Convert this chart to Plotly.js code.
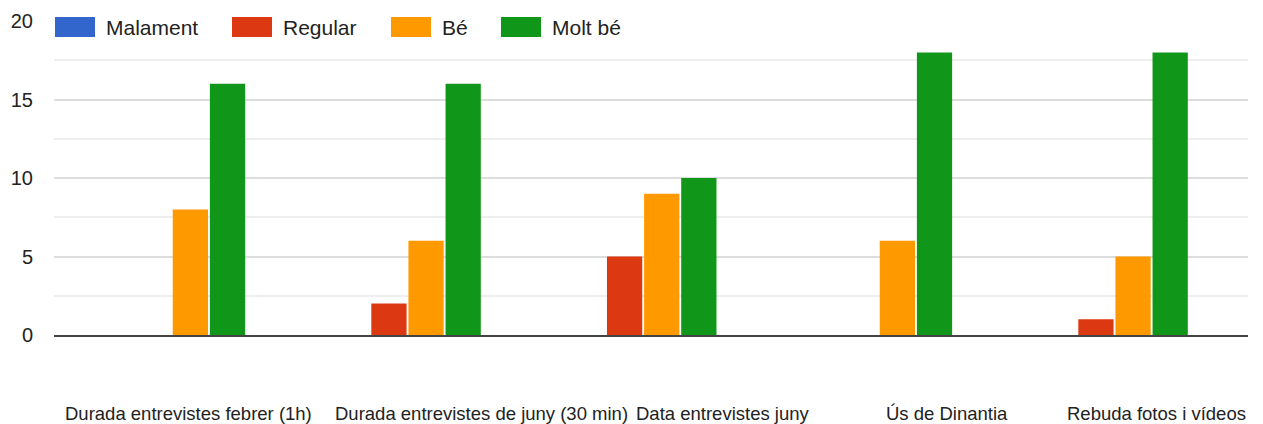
<!DOCTYPE html>
<html>
<head>
<meta charset="utf-8">
<script src="https://cdn.plot.ly/plotly-3.0.1.min.js"></script>
<style>html,body{margin:0;padding:0;background:#fff;}#chart{width:1263px;height:424px;}</style>
</head>
<body>
<div id="chart"></div>
<script>
var categories = ["Durada entrevistes febrer (1h)", "Durada entrevistes de juny (30 min)", "Data entrevistes juny", "Ús de Dinantia", "Rebuda fotos i vídeos"];
var seriesNames = ["Malament", "Regular", "Bé", "Molt bé"];
var malament = [0, 0, 0, 0, 0];
var regular = [0, 2, 5, 0, 1];
var be = [8, 6, 9, 6, 5];
var moltBe = [16, 16, 10, 18, 18];
var colors = ["#3366cc", "#dc3912", "#ff9900", "#109618"];

var values = [malament, regular, be, moltBe];
var traces = values.map(function (v, i) {
  return {
    type: "bar",
    x: categories,
    y: v,
    name: seriesNames[i],
    marker: { color: colors[i] },
    showlegend: false,
    hoverinfo: "x+y+name"
  };
});

// layout constants (pixel geometry)
var W = 1263, H = 424;
var mL = 54, mR = 15, mT = 21, mB = 89;
var plotW = W - mL - mR, plotH = H - mT - mB;
function px2x(p) { return (p - mL) / plotW; }
function py2y(p) { return (H - mB - p) / plotH; }

var legendSwatchLeft = [55, 232, 391, 501];
var swatchW = 40, swatchTop = 17, swatchBot = 37;
var labelShift = [17, 74, 80, 68, 42];

var shapes = [];
var annotations = [];
seriesNames.forEach(function (n, i) {
  shapes.push({
    type: "rect", xref: "paper", yref: "paper", layer: "above",
    x0: px2x(legendSwatchLeft[i]), x1: px2x(legendSwatchLeft[i] + swatchW),
    y0: py2y(swatchBot), y1: py2y(swatchTop),
    fillcolor: colors[i], line: { width: 0 }
  });
  annotations.push({
    xref: "paper", yref: "paper", showarrow: false,
    x: px2x(legendSwatchLeft[i] + swatchW + 10), xanchor: "left",
    y: py2y(27), yanchor: "middle",
    text: n, bgcolor: "#ffffff", borderpad: 0,
    font: { family: "Liberation Sans, Arial, sans-serif", size: 21, color: "#222222" }
  });
});
categories.forEach(function (c, i) {
  annotations.push({
    xref: "x", yref: "paper", showarrow: false,
    x: c, xanchor: "center", xshift: labelShift[i],
    y: 0, yanchor: "middle", yshift: -78,
    text: c,
    font: { family: "Liberation Sans, Arial, sans-serif", size: 18.5, color: "#222222" }
  });
});

var layout = {
  width: W, height: H,
  margin: { l: mL, r: mR, t: mT, b: mB, pad: 0 },
  paper_bgcolor: "#ffffff", plot_bgcolor: "#ffffff",
  barmode: "group",
  bargap: 0.37,
  bargroupgap: 0.05,
  showlegend: false,
  font: { family: "Liberation Sans, Arial, sans-serif", size: 18, color: "#222222" },
  xaxis: {
    type: "category",
    showticklabels: false,
    showgrid: false,
    zeroline: false,
    showline: true, linecolor: "#444444", linewidth: 2,
    ticks: "", fixedrange: true
  },
  yaxis: {
    range: [0, 20],
    tickvals: [0, 5, 10, 15, 20],
    ticktext: ["0", "5", "10", "15", "20"],
    tickfont: { family: "Liberation Sans, Arial, sans-serif", size: 20, color: "#222222" },
    ticks: "",
    ticklabelstandoff: 20,
    showgrid: true, gridcolor: "#dddddd", gridwidth: 2,
    minor: { tickvals: [2.5, 7.5, 12.5, 17.5], showgrid: true, gridcolor: "#eeeeee", gridwidth: 2 },
    zeroline: false,
    showline: false,
    fixedrange: true
  },
  shapes: shapes,
  annotations: annotations
};

Plotly.newPlot("chart", traces, layout, { displayModeBar: false, staticPlot: false });
</script>
</body>
</html>
